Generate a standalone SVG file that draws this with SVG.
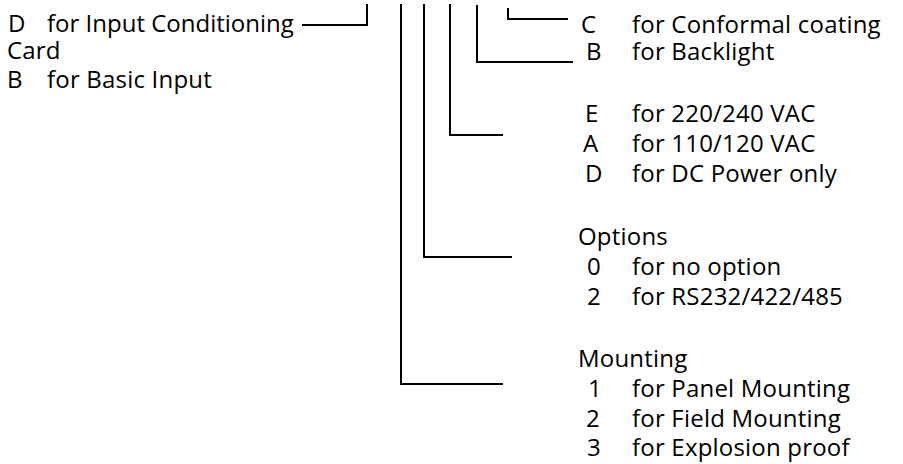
<svg xmlns="http://www.w3.org/2000/svg" width="903" height="464" viewBox="0 0 903 464">
<style>
text{font-family:"Open Sans","Noto Sans",sans-serif;font-size:24px;letter-spacing:0.2px;fill:#000}
.tight{letter-spacing:0}
.ln{fill:none;stroke:#000;stroke-width:2}
</style>
<rect width="903" height="464" fill="#fff"/>
<g id="connectors">
<path class="ln" d="M302,25 H367 V4"/>
<path class="ln" d="M401,4 V384 H503"/>
<path class="ln" d="M424,4 V257 H512"/>
<path class="ln" d="M450,4 V135 H503"/>
<path class="ln" d="M477,5 V62 H573"/>
<path class="ln" d="M508,8 V19 H568"/>
</g>
<g id="input">
<text x="8" y="32">D</text><text class="tight" x="47" y="32">for Input Conditioning</text>
<text x="7" y="59">Card</text>
<text x="7" y="88">B</text><text x="47" y="88">for Basic Input</text>
</g>
<g id="conformal">
<text x="581" y="33">C</text><text x="632" y="33">for Conformal coating</text>
</g>
<g id="backlight">
<text x="586" y="60">B</text><text x="632" y="60">for Backlight</text>
</g>
<g id="power">
<text x="585" y="122">E</text><text x="632" y="122">for 220/240 VAC</text>
<text x="583" y="152">A</text><text x="632" y="152">for 110/120 VAC</text>
<text x="585" y="182">D</text><text x="632" y="182">for DC Power only</text>
</g>
<g id="options">
<text x="578" y="245">Options</text>
<text x="587" y="275">0</text><text x="632" y="275">for no option</text>
<text x="587" y="305">2</text><text x="632" y="305">for RS232/422/485</text>
</g>
<g id="mounting">
<text x="578" y="367">Mounting</text>
<text x="588" y="397">1</text><text x="632" y="397">for Panel Mounting</text>
<text x="586" y="427">2</text><text x="632" y="427">for Field Mounting</text>
<text x="587" y="456">3</text><text x="632" y="456">for Explosion proof</text>
</g>
</svg>
